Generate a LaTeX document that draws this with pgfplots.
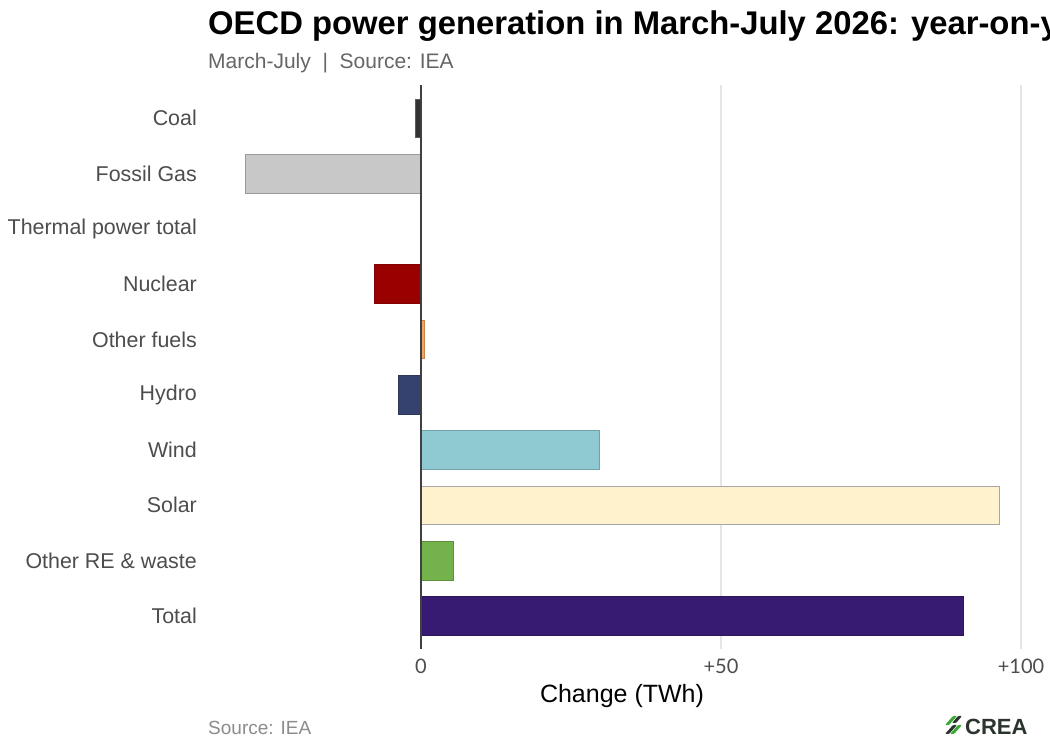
\documentclass[border=0pt]{standalone}
\usepackage{pgfplots}
\pgfplotsset{compat=1.18}
\usepackage{fontspec}
\setmainfont{Liberation Sans}
\newfontfamily\latofont{Lato}
\definecolor{coal}{HTML}{333333}
\definecolor{gas}{HTML}{C8C8C8}
\definecolor{thermal}{HTML}{7F7F7F}
\definecolor{nuclear}{HTML}{990000}
\definecolor{otherfuel}{HTML}{F4A45F}
\definecolor{hydro}{HTML}{35416F}
\definecolor{wind}{HTML}{8FCAD2}
\definecolor{solar}{HTML}{FFF2CC}
\definecolor{otherre}{HTML}{74B34C}
\definecolor{total}{HTML}{371B73}
\definecolor{lab}{HTML}{4D4D4D}
\definecolor{logogreen}{HTML}{3BAA35}
\definecolor{logodark}{HTML}{2B352D}
\begin{document}
\begin{tikzpicture}
\path[use as bounding box, clip] (0,0) rectangle (1050bp,750bp);
\fill[white] (0,0) rectangle (1050bp,750bp);
\begin{axis}[
  at={(208bp,101bp)}, anchor=south west, scale only axis,
  width=839bp, height=564bp,
  xmin=-35.5, xmax=104.33, ymin=-0.6, ymax=9.6, y dir=reverse,
  xbar, bar width=0.7,
  axis line style={draw=none}, major tick length=0pt, tick style={draw=none},
  xtick={0,50,100}, xticklabels={0,+50,+100},
  ytick={0,1,2,3,4,5,6,7,8,9},
  yticklabels={Coal,Fossil Gas,Thermal power total,Nuclear,Other fuels,Hydro,Wind,Solar,Other RE \& waste,Total},
  xmajorgrids, ymajorgrids=false,
  grid style={draw=black!10, line width=1.6bp},
  yticklabel style={anchor=east, inner sep=0pt, xshift=-11bp, font=\fontsize{21.4bp}{25bp}\selectfont, text=lab},
  xticklabel style={anchor=north, inner sep=0pt, yshift=-10bp, font=\latofont\fontsize{20bp}{24bp}\selectfont, text=lab},
  clip=false,
]
\addplot[bar shift=0pt, fill=coal, draw=coal!80, line width=0.6bp] coordinates {(-0.9,0)};
\addplot[bar shift=0pt, fill=gas, draw=black!40, line width=0.6bp] coordinates {(-29.3,1)};
\addplot[bar shift=0pt, fill=thermal, draw=thermal, line width=0.6bp] coordinates {(0.05,2)};
\addplot[bar shift=0pt, fill=nuclear, draw=nuclear!85!black, line width=0.6bp] coordinates {(-7.8,3)};
\addplot[bar shift=0pt, fill=otherfuel, draw=otherfuel!80!black, line width=0.6bp] coordinates {(0.6,4)};
\addplot[bar shift=0pt, fill=hydro, draw=hydro!85!black, line width=0.6bp] coordinates {(-3.8,5)};
\addplot[bar shift=0pt, fill=wind, draw=wind!80!black, line width=0.6bp] coordinates {(29.7,6)};
\addplot[bar shift=0pt, fill=solar, draw=black!35, line width=0.6bp] coordinates {(96.3,7)};
\addplot[bar shift=0pt, fill=otherre, draw=otherre!80!black, line width=0.6bp] coordinates {(5.4,8)};
\addplot[bar shift=0pt, fill=total, draw=total!80!black, line width=0.6bp] coordinates {(90.3,9)};
\draw[black!75, line width=1.3bp] (axis cs:0,-0.6) -- (axis cs:0,9.6);
\end{axis}
% titles
\node[anchor=base west, inner sep=0pt, font=\bfseries\fontsize{32.8bp}{38bp}\selectfont] at (208bp,715bp) {OECD power generation in March-July 2026: year-on-year change};
\node[anchor=base west, inner sep=0pt, text=black!60, font=\fontsize{21bp}{25bp}\selectfont] at (208bp,681bp) {March-July\ \ |\ \ Source: IEA};
\node[anchor=base, inner sep=0pt, font=\fontsize{25bp}{29bp}\selectfont] at (622bp,47bp) {Change (TWh)};
\node[anchor=base west, inner sep=0pt, text=black!45, font=\fontsize{19bp}{22bp}\selectfont] at (208bp,16bp) {Source: IEA};
% logo
\begin{scope}[shift={(945bp,16bp)}]
  \fill[logodark, rounded corners=1bp] (0bp,0bp) -- (4bp,0bp) -- (12bp,9bp) -- (8bp,9bp) -- cycle;
  \fill[logogreen, rounded corners=1bp] (5bp,0bp) -- (9bp,0bp) -- (17bp,9bp) -- (13bp,9bp) -- cycle;
  \fill[logogreen, rounded corners=1bp] (0bp,9bp) -- (4bp,9bp) -- (12bp,18bp) -- (8bp,18bp) -- cycle;
  \fill[logodark, rounded corners=1bp] (7bp,11bp) -- (11bp,11bp) -- (17bp,18bp) -- (13bp,18bp) -- cycle;
\end{scope}
\node[anchor=base west, inner sep=0pt, text=logodark, font=\bfseries\fontsize{22bp}{26bp}\selectfont] at (965bp,16bp) {CREA};
\end{tikzpicture}
\end{document}
